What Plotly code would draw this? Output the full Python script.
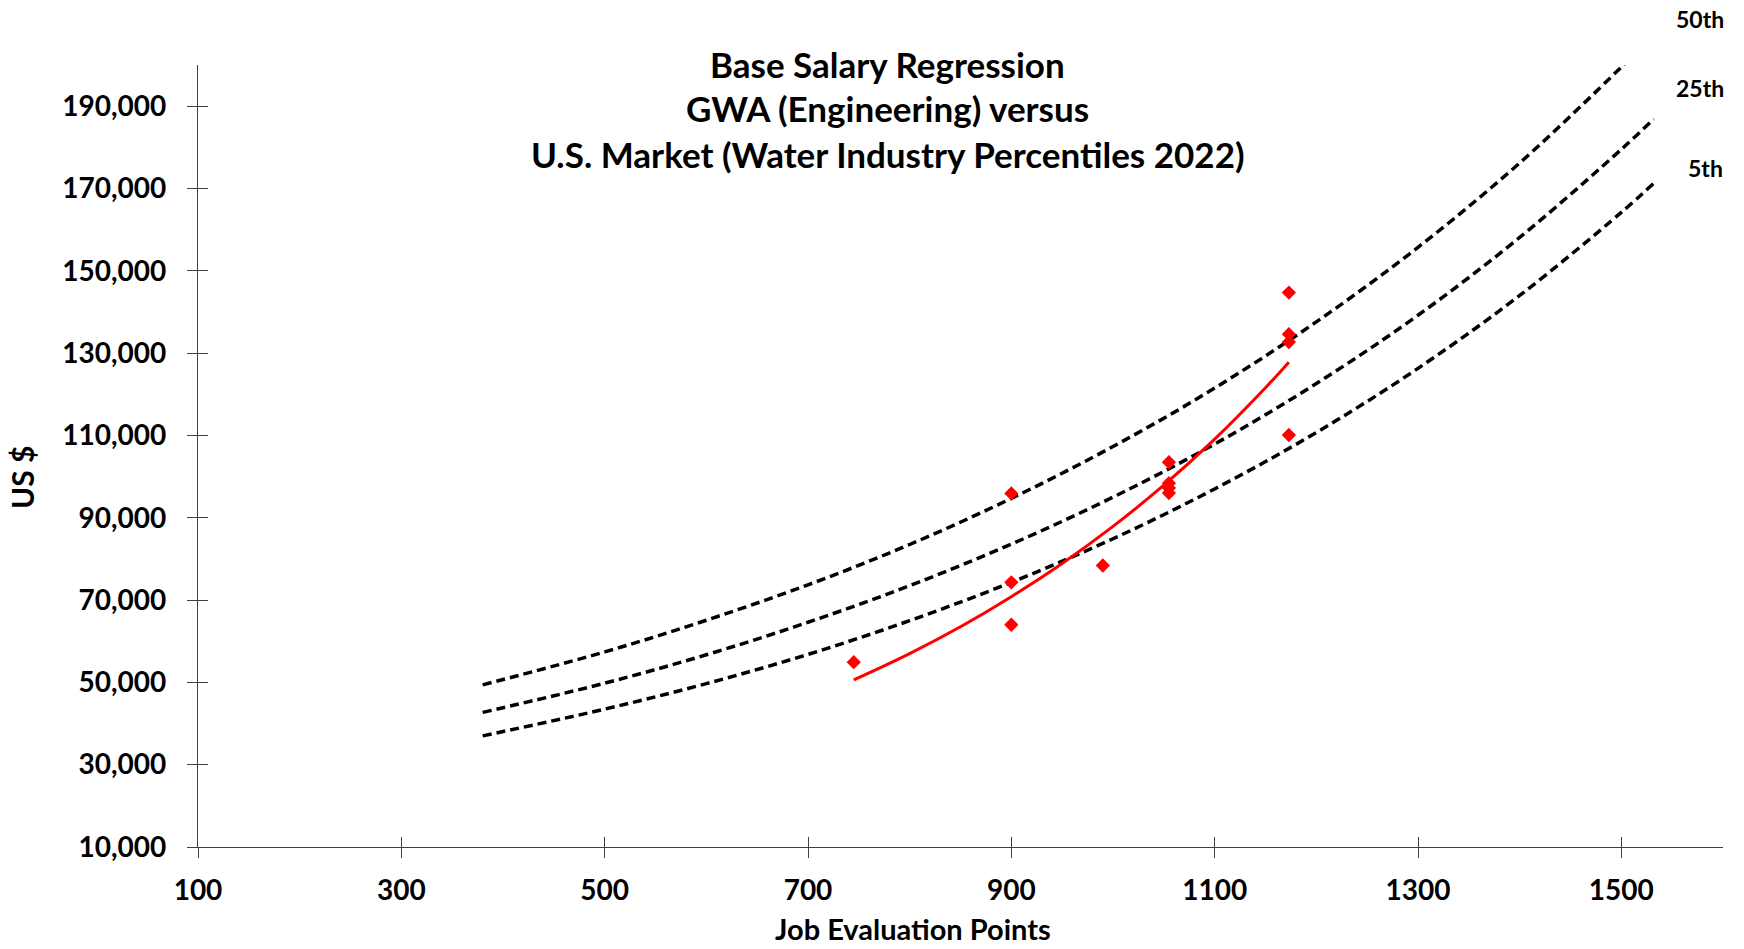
import plotly.graph_objects as go

# ---- data ----
pct_x = [380, 500, 600, 700, 800, 900, 1000, 1100, 1200, 1300, 1400, 1500, 1532]
p50 = [49400, 57400, 65100, 73700, 83500, 94700, 107300, 121500, 137600, 155700, 176200, 199500, 207500]
p25 = [42700, 49800, 56700, 64600, 73500, 83600, 95000, 107900, 122600, 139200, 158100, 179500, 186900]
p5 = [37000, 43500, 49700, 56800, 65000, 74300, 84900, 97000, 110700, 126300, 144000, 164200, 171300]

trend_x = [745, 800, 850, 900, 950, 1000, 1050, 1100, 1150, 1173]
trend_y = [50600, 57000, 63500, 70800, 78900, 87900, 97900, 109100, 121600, 127800]

pts_x = [745, 900, 900, 900, 990, 1055, 1055, 1055, 1055, 1173, 1173, 1173, 1173]
pts_y = [54900, 95900, 74300, 64000, 78400, 103500, 98400, 97200, 96000, 144700, 134600, 132700, 110100]

pct_labels = ["50th", "25th", "5th"]
x_ticks = [100, 300, 500, 700, 900, 1100, 1300, 1500]
y_ticks = [10000, 30000, 50000, 70000, 90000, 110000, 130000, 150000, 170000, 190000]
y_tick_text = [f"{v:,}" for v in y_ticks]

title_lines = ["Base Salary Regression", "GWA (Engineering) versus",
               "U.S. Market (Water Industry Percentiles 2022)"]
x_title = "Job Evaluation Points"
y_title = "US $"

FONT = "Lato"
fig = go.Figure()

for ys in (p50, p25, p5):
    fig.add_trace(go.Scatter(x=pct_x, y=ys, mode="lines",
                             line=dict(color="black", width=3.5, dash="9px,5px", shape="spline"),
                             showlegend=False, hoverinfo="skip"))

fig.add_trace(go.Scatter(x=trend_x, y=trend_y, mode="lines",
                         line=dict(color="#ff0000", width=3, shape="spline"),
                         showlegend=False))
fig.add_trace(go.Scatter(x=pts_x, y=pts_y, mode="markers",
                         marker=dict(symbol="diamond", color="#ff0000", size=11),
                         showlegend=False))
# helper trace for the overlay axes (inner half of crossing ticks)
fig.add_trace(go.Scatter(x=[None], y=[None], xaxis="x2", yaxis="y2", showlegend=False))

axis_common = dict(showgrid=False, zeroline=False, linecolor="#404040", linewidth=1.3,
                   tickcolor="#404040", tickwidth=1.3, ticklen=10, automargin=False,
                   tickfont=dict(family=FONT, size=28, color="black", weight="bold"))

fig.update_layout(
    width=1744, height=949,
    margin=dict(l=198, r=21, t=64.5, b=101.5, autoexpand=False),
    paper_bgcolor="white", plot_bgcolor="white",
    font=dict(family=FONT, color="black"),
    xaxis=dict(range=[100, 1600], tickvals=x_ticks, ticks="outside", showline=True,
               ticklabelstandoff=8, **axis_common),
    yaxis=dict(range=[10000, 200000], tickvals=y_ticks, ticktext=y_tick_text, ticks="outside",
               showline=True, ticklabelstandoff=15, **axis_common),
    xaxis2=dict(range=[100, 1600], overlaying="x", anchor="y2", tickvals=x_ticks, ticks="inside",
                ticklen=10, tickcolor="#404040", tickwidth=1.3, showticklabels=False,
                showgrid=False, zeroline=False, showline=False, automargin=False),
    yaxis2=dict(range=[10000, 200000], overlaying="y", anchor="x2", tickvals=y_ticks, ticks="inside",
                ticklen=10, tickcolor="#404040", tickwidth=1.3, showticklabels=False,
                showgrid=False, zeroline=False, showline=False, side="left", automargin=False),
)

for line, yp in zip(title_lines, [1.0014, 0.9453, 0.8863]):
    fig.add_annotation(text=f"<b>{line}</b>", xref="paper", yref="paper", x=0.4522, y=yp,
                       xanchor="center", yanchor="middle", showarrow=False,
                       font=dict(family=FONT, size=35, color="black"))

for lab, xp, yp in zip(pct_labels, [0.9846, 0.9846, 0.9882], [1.0582, 0.9701, 0.8678]):
    fig.add_annotation(text=f"<b>{lab}</b>", xref="paper", yref="paper", x=xp, y=yp,
                       xanchor="center", yanchor="middle", showarrow=False,
                       font=dict(family=FONT, size=23, color="black"))

# axis titles (placed off-centre as in the reference)
fig.add_annotation(text=f"<b>{x_title}</b>", xref="paper", yref="paper",
                   x=(913 - 198) / 1525, y=(847.5 - 929) / 783,
                   xanchor="center", yanchor="middle", showarrow=False, borderpad=0,
                   font=dict(family=FONT, size=29, color="black"))
fig.add_annotation(text=f"<b>{y_title}</b>", xref="paper", yref="paper",
                   x=(22 - 198) / 1525, y=(847.5 - 478) / 783, textangle=-90,
                   xanchor="center", yanchor="middle", showarrow=False,
                   font=dict(family=FONT, size=30, color="black"))

fig.write_html("out.html", config={"displayModeBar": False},
               post_script="document.body.style.margin='0';document.body.style.overflow='hidden';")
